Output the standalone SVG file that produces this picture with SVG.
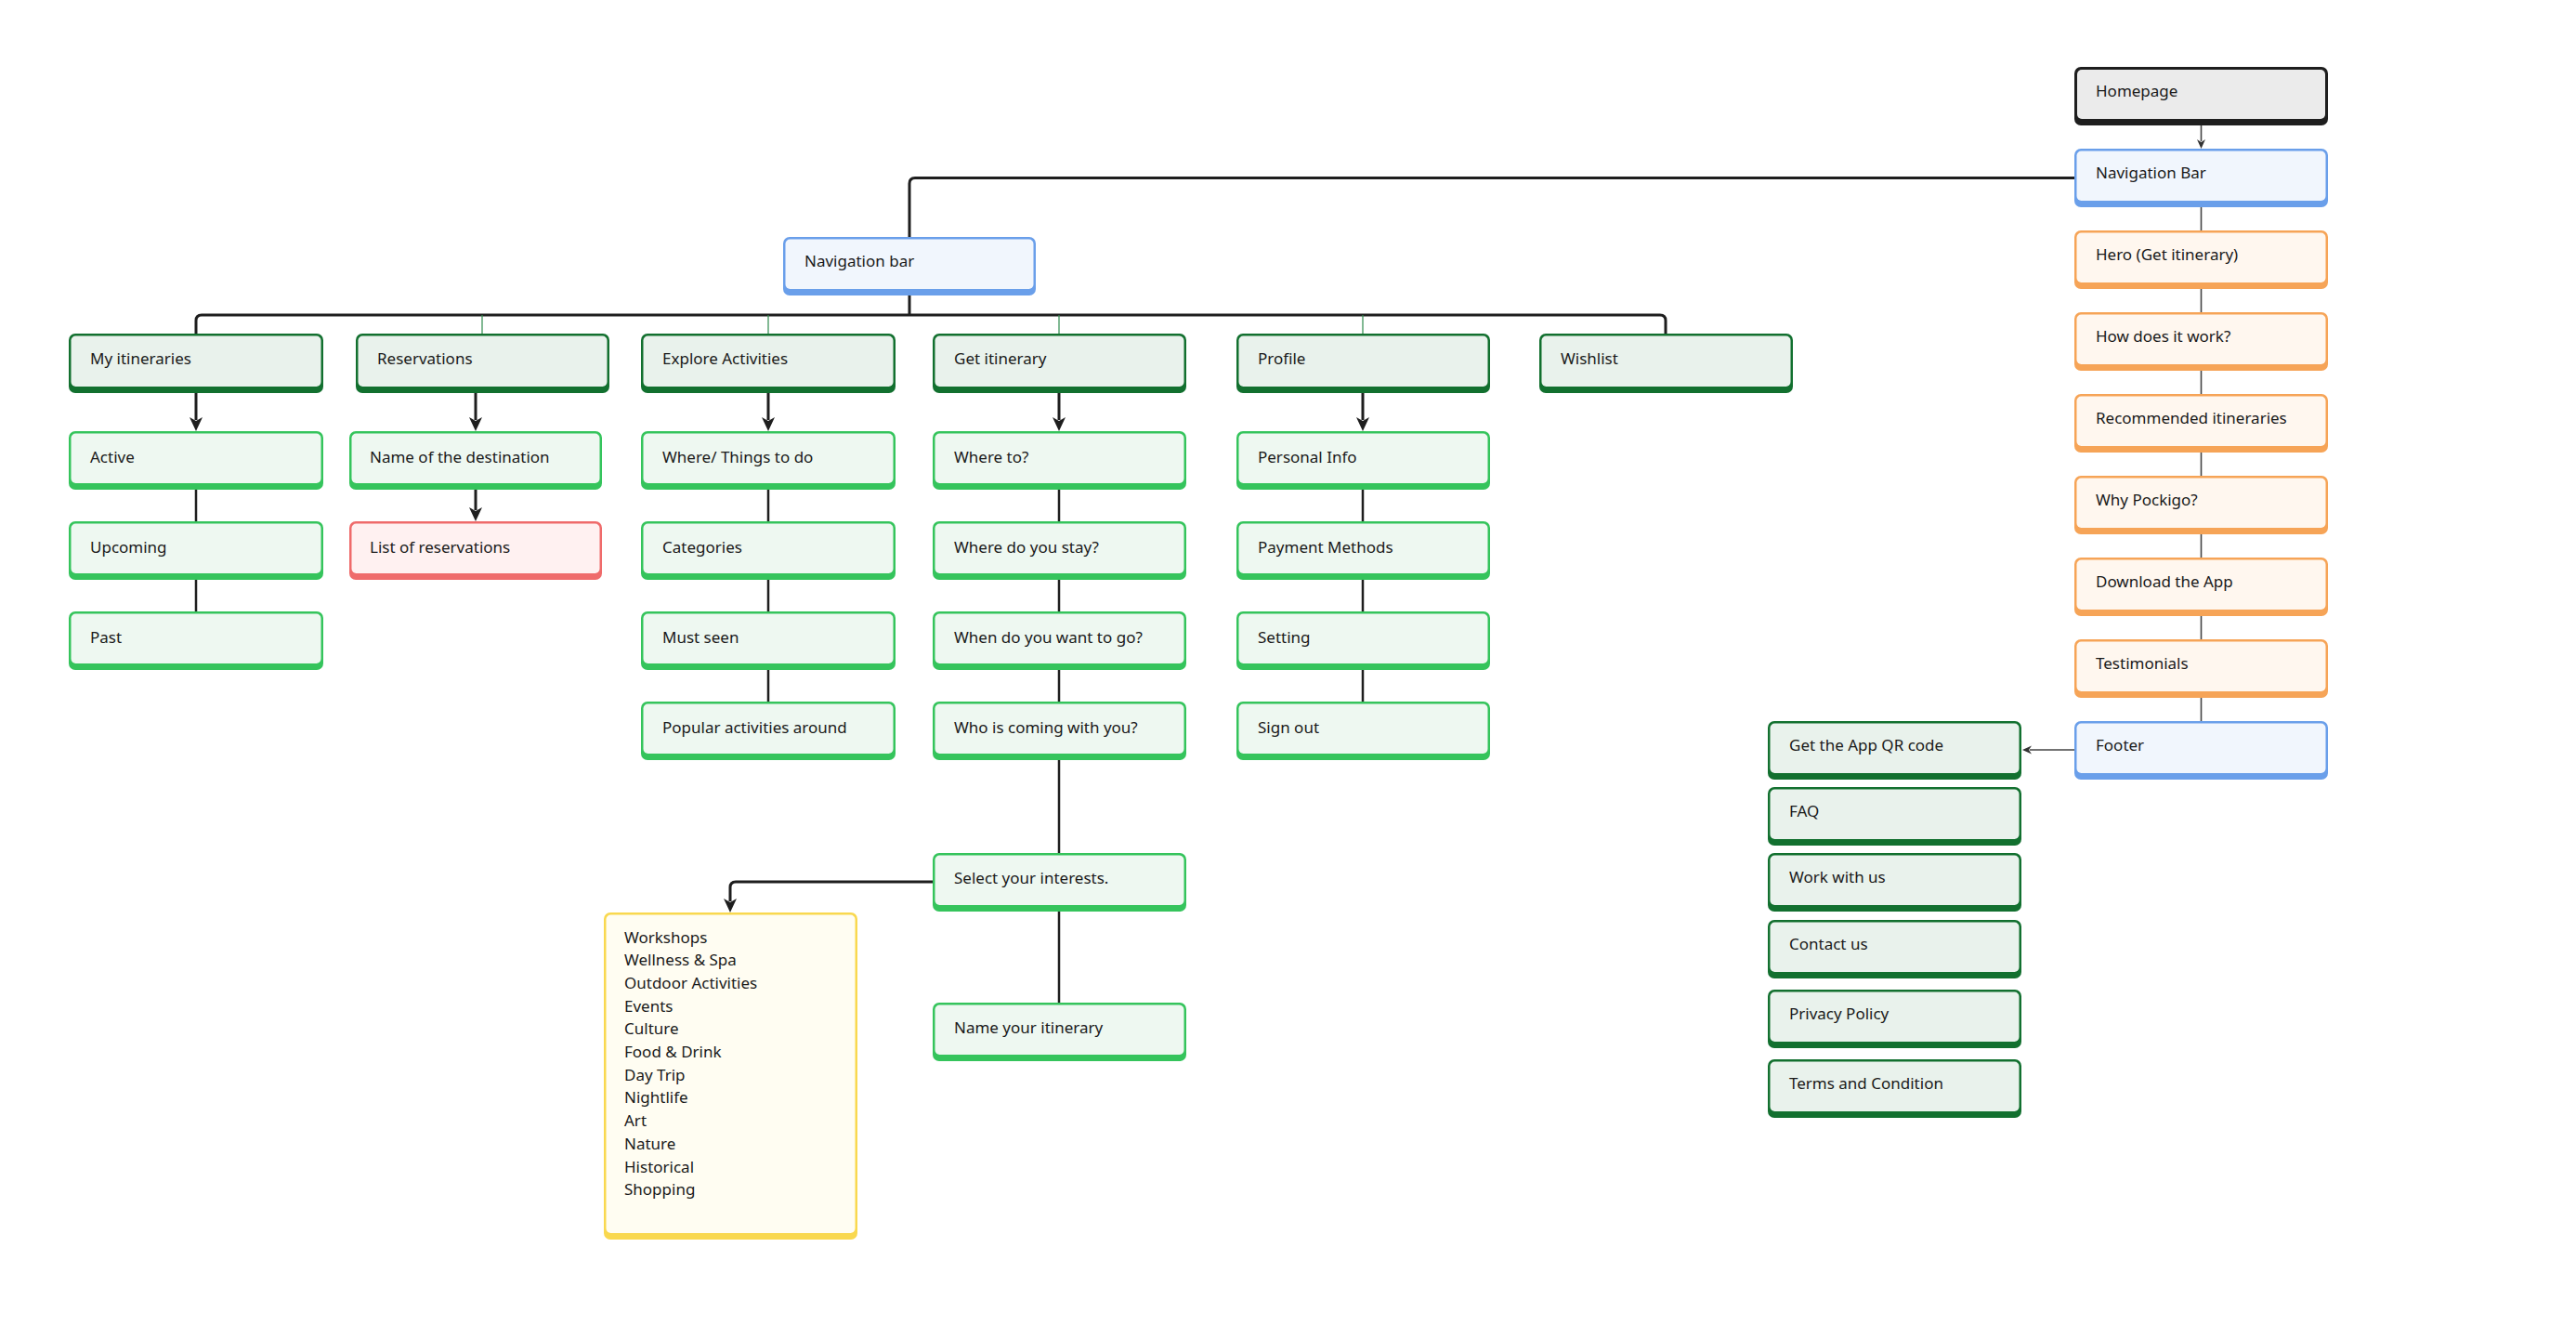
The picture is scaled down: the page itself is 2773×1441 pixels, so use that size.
<svg xmlns="http://www.w3.org/2000/svg" width="2773" height="1441" viewBox="0 0 2773 1441">
<style>
  text { font-family: "Noto Sans", "Open Sans", "Liberation Sans", sans-serif; font-size: 17px; fill: #1a1a1a; }
  .gray .o { fill: #1e1e1e; } .gray .i { fill: #ebebeb; }
  .blue .o { fill: #6a9fea; } .blue .i { fill: #f1f6fd; }
  .orange .o { fill: #f6a457; } .orange .i { fill: #fff7ef; }
  .dgreen .o { fill: #12702f; } .dgreen .i { fill: #e9f2ec; }
  .lgreen .o { fill: #35c45c; } .lgreen .i { fill: #eef8f1; }
  .red .o { fill: #ef6b6b; } .red .i { fill: #fff1f1; }
  .yellow .o { fill: #f9d84f; } .yellow .i { fill: #fffdf2; }
  .c { fill: none; stroke: #1e1e1e; stroke-width: 3; }
  .c2 { fill: none; stroke: #1e1e1e; stroke-width: 2.5; }
  .ct { fill: none; stroke: #444; stroke-width: 1.6; }
  .cg { fill: none; stroke: #2e8a4c; stroke-width: 1.2; }
</style>
<defs>
  <marker id="ah" markerUnits="userSpaceOnUse" markerWidth="16" markerHeight="16" viewBox="0 0 16 16" refX="3" refY="8" orient="auto">
    <path d="M0,1 L15,8 L0,15 L4,8 z" fill="#1e1e1e"/>
  </marker>
  <marker id="ahs" markerUnits="userSpaceOnUse" markerWidth="11" markerHeight="11" viewBox="0 0 11 11" refX="2" refY="5.5" orient="auto">
    <path d="M0,1 L10,5.5 L0,10 L3,5.5 z" fill="#333"/>
  </marker>
</defs>
<rect x="0" y="0" width="2773" height="1441" fill="#ffffff"/>

<g id="connectors">
  <path class="ct" d="M2369.5,134 V152" marker-end="url(#ahs)"/>
  <path class="ct" d="M2369.5,223 V248"/>
  <path class="ct" d="M2369.5,311 V336"/>
  <path class="ct" d="M2369.5,399 V424"/>
  <path class="ct" d="M2369.5,487 V512"/>
  <path class="ct" d="M2369.5,575 V600"/>
  <path class="ct" d="M2369.5,663 V688"/>
  <path class="ct" d="M2369.5,751 V776"/>
  <path class="ct" d="M2233,807 H2185" marker-end="url(#ahs)"/>
  <path class="c" d="M2233,191.5 H985 Q979,191.5 979,197.5 V255"/>
  <path class="c" d="M979,317 V339"/>
  <path class="c" d="M211,359 V345 Q211,339 217,339 H1787 Q1793,339 1793,345 V360"/>
  <path class="cg" d="M519,339 V359"/>
  <path class="cg" d="M827,339 V359"/>
  <path class="cg" d="M1140,339 V359"/>
  <path class="cg" d="M1467,339 V359"/>
  <path class="c" d="M211,422 V452" marker-end="url(#ah)"/>
  <path class="c" d="M512,422 V452" marker-end="url(#ah)"/>
  <path class="c" d="M827,422 V452" marker-end="url(#ah)"/>
  <path class="c" d="M1140,422 V452" marker-end="url(#ah)"/>
  <path class="c" d="M1467,422 V452" marker-end="url(#ah)"/>
  <path class="c" d="M512,527 V549" marker-end="url(#ah)"/>
  <path class="c2" d="M211,527 V561 M211,624 V658"/>
  <path class="c2" d="M827,527 V561 M827,624 V658 M827,721 V755"/>
  <path class="c2" d="M1140,527 V561 M1140,624 V658 M1140,721 V755 M1140,818 V918 M1140,981 V1079"/>
  <path class="c2" d="M1467,527 V561 M1467,624 V658 M1467,721 V755"/>
  <path class="c" d="M1004,949 H792 Q786,949 786,955 V970" marker-end="url(#ah)"/>
</g>

<g id="n-homepage" class="gray"><rect class="o" x="2233" y="72" width="273" height="63" rx="7"/><rect class="i" x="2236" y="75" width="267" height="53" rx="5"/><text x="2256" y="104">Homepage</text></g>
<g id="n-navbar-top" class="blue"><rect class="o" x="2233" y="160" width="273" height="63" rx="7"/><rect class="i" x="2235.5" y="162.5" width="268" height="53.5" rx="5"/><text x="2256" y="192">Navigation Bar</text></g>
<g id="n-hero" class="orange"><rect class="o" x="2233" y="248" width="273" height="63" rx="7"/><rect class="i" x="2235.5" y="250.5" width="268" height="53.5" rx="5"/><text x="2256" y="280">Hero (Get itinerary)</text></g>
<g id="n-how" class="orange"><rect class="o" x="2233" y="336" width="273" height="63" rx="7"/><rect class="i" x="2235.5" y="338.5" width="268" height="53.5" rx="5"/><text x="2256" y="368">How does it work?</text></g>
<g id="n-recommended" class="orange"><rect class="o" x="2233" y="424" width="273" height="63" rx="7"/><rect class="i" x="2235.5" y="426.5" width="268" height="53.5" rx="5"/><text x="2256" y="456">Recommended itineraries</text></g>
<g id="n-why" class="orange"><rect class="o" x="2233" y="512" width="273" height="63" rx="7"/><rect class="i" x="2235.5" y="514.5" width="268" height="53.5" rx="5"/><text x="2256" y="544">Why Pockigo?</text></g>
<g id="n-download" class="orange"><rect class="o" x="2233" y="600" width="273" height="63" rx="7"/><rect class="i" x="2235.5" y="602.5" width="268" height="53.5" rx="5"/><text x="2256" y="632">Download the App</text></g>
<g id="n-testimonials" class="orange"><rect class="o" x="2233" y="688" width="273" height="63" rx="7"/><rect class="i" x="2235.5" y="690.5" width="268" height="53.5" rx="5"/><text x="2256" y="720">Testimonials</text></g>
<g id="n-footer" class="blue"><rect class="o" x="2233" y="776" width="273" height="63" rx="7"/><rect class="i" x="2235.5" y="778.5" width="268" height="53.5" rx="5"/><text x="2256" y="808">Footer</text></g>

<g id="n-qr" class="dgreen"><rect class="o" x="1903" y="776" width="273" height="63" rx="7"/><rect class="i" x="1905.5" y="778.5" width="268" height="53.5" rx="5"/><text x="1926" y="808">Get the App QR code</text></g>
<g id="n-faq" class="dgreen"><rect class="o" x="1903" y="847" width="273" height="63" rx="7"/><rect class="i" x="1905.5" y="849.5" width="268" height="53.5" rx="5"/><text x="1926" y="879">FAQ</text></g>
<g id="n-work" class="dgreen"><rect class="o" x="1903" y="918" width="273" height="63" rx="7"/><rect class="i" x="1905.5" y="920.5" width="268" height="53.5" rx="5"/><text x="1926" y="950">Work with us</text></g>
<g id="n-contact" class="dgreen"><rect class="o" x="1903" y="990" width="273" height="63" rx="7"/><rect class="i" x="1905.5" y="992.5" width="268" height="53.5" rx="5"/><text x="1926" y="1022">Contact us</text></g>
<g id="n-privacy" class="dgreen"><rect class="o" x="1903" y="1065" width="273" height="63" rx="7"/><rect class="i" x="1905.5" y="1067.5" width="268" height="53.5" rx="5"/><text x="1926" y="1097">Privacy Policy</text></g>
<g id="n-terms" class="dgreen"><rect class="o" x="1903" y="1140" width="273" height="63" rx="7"/><rect class="i" x="1905.5" y="1142.5" width="268" height="53.5" rx="5"/><text x="1926" y="1172">Terms and Condition</text></g>

<g id="n-navbar" class="blue"><rect class="o" x="843" y="255" width="272" height="63" rx="7"/><rect class="i" x="845.5" y="257.5" width="267" height="53.5" rx="5"/><text x="866" y="287">Navigation bar</text></g>

<g id="n-myitin" class="dgreen"><rect class="o" x="74" y="359" width="274" height="64" rx="7"/><rect class="i" x="76.5" y="361.5" width="269" height="54.5" rx="5"/><text x="97" y="392">My itineraries</text></g>
<g id="n-reservations" class="dgreen"><rect class="o" x="383" y="359" width="273" height="64" rx="7"/><rect class="i" x="385.5" y="361.5" width="268" height="54.5" rx="5"/><text x="406" y="392">Reservations</text></g>
<g id="n-explore" class="dgreen"><rect class="o" x="690" y="359" width="274" height="64" rx="7"/><rect class="i" x="692.5" y="361.5" width="269" height="54.5" rx="5"/><text x="713" y="392">Explore Activities</text></g>
<g id="n-getitin" class="dgreen"><rect class="o" x="1004" y="359" width="273" height="64" rx="7"/><rect class="i" x="1006.5" y="361.5" width="268" height="54.5" rx="5"/><text x="1027" y="392">Get itinerary</text></g>
<g id="n-profile" class="dgreen"><rect class="o" x="1331" y="359" width="273" height="64" rx="7"/><rect class="i" x="1333.5" y="361.5" width="268" height="54.5" rx="5"/><text x="1354" y="392">Profile</text></g>
<g id="n-wishlist" class="dgreen"><rect class="o" x="1657" y="359" width="273" height="64" rx="7"/><rect class="i" x="1659.5" y="361.5" width="268" height="54.5" rx="5"/><text x="1680" y="392">Wishlist</text></g>

<g id="n-active" class="lgreen"><rect class="o" x="74" y="464" width="274" height="63" rx="7"/><rect class="i" x="76.5" y="466.5" width="269" height="53.5" rx="5"/><text x="97" y="497.5">Active</text></g>
<g id="n-upcoming" class="lgreen"><rect class="o" x="74" y="561" width="274" height="63" rx="7"/><rect class="i" x="76.5" y="563.5" width="269" height="53.5" rx="5"/><text x="97" y="594.5">Upcoming</text></g>
<g id="n-past" class="lgreen"><rect class="o" x="74" y="658" width="274" height="63" rx="7"/><rect class="i" x="76.5" y="660.5" width="269" height="53.5" rx="5"/><text x="97" y="691.5">Past</text></g>

<g id="n-dest" class="lgreen"><rect class="o" x="376" y="464" width="272" height="63" rx="7"/><rect class="i" x="378.5" y="466.5" width="267" height="53.5" rx="5"/><text x="398" y="497.5">Name of the destination</text></g>
<g id="n-list" class="red"><rect class="o" x="376" y="561" width="272" height="63" rx="7"/><rect class="i" x="378.5" y="563.5" width="267" height="53.5" rx="5"/><text x="398" y="594.5">List of reservations</text></g>

<g id="n-where" class="lgreen"><rect class="o" x="690" y="464" width="274" height="63" rx="7"/><rect class="i" x="692.5" y="466.5" width="269" height="53.5" rx="5"/><text x="713" y="497.5">Where/ Things to do</text></g>
<g id="n-categories" class="lgreen"><rect class="o" x="690" y="561" width="274" height="63" rx="7"/><rect class="i" x="692.5" y="563.5" width="269" height="53.5" rx="5"/><text x="713" y="594.5">Categories</text></g>
<g id="n-mustseen" class="lgreen"><rect class="o" x="690" y="658" width="274" height="63" rx="7"/><rect class="i" x="692.5" y="660.5" width="269" height="53.5" rx="5"/><text x="713" y="691.5">Must seen</text></g>
<g id="n-popular" class="lgreen"><rect class="o" x="690" y="755" width="274" height="63" rx="7"/><rect class="i" x="692.5" y="757.5" width="269" height="53.5" rx="5"/><text x="713" y="788.5">Popular activities around</text></g>

<g id="n-whereto" class="lgreen"><rect class="o" x="1004" y="464" width="273" height="63" rx="7"/><rect class="i" x="1006.5" y="466.5" width="268" height="53.5" rx="5"/><text x="1027" y="497.5">Where to?</text></g>
<g id="n-stay" class="lgreen"><rect class="o" x="1004" y="561" width="273" height="63" rx="7"/><rect class="i" x="1006.5" y="563.5" width="268" height="53.5" rx="5"/><text x="1027" y="594.5">Where do you stay?</text></g>
<g id="n-when" class="lgreen"><rect class="o" x="1004" y="658" width="273" height="63" rx="7"/><rect class="i" x="1006.5" y="660.5" width="268" height="53.5" rx="5"/><text x="1027" y="691.5">When do you want to go?</text></g>
<g id="n-who" class="lgreen"><rect class="o" x="1004" y="755" width="273" height="63" rx="7"/><rect class="i" x="1006.5" y="757.5" width="268" height="53.5" rx="5"/><text x="1027" y="788.5">Who is coming with you?</text></g>
<g id="n-select" class="lgreen"><rect class="o" x="1004" y="918" width="273" height="63" rx="7"/><rect class="i" x="1006.5" y="920.5" width="268" height="53.5" rx="5"/><text x="1027" y="951">Select your interests.</text></g>
<g id="n-name" class="lgreen"><rect class="o" x="1004" y="1079" width="273" height="63" rx="7"/><rect class="i" x="1006.5" y="1081.5" width="268" height="53.5" rx="5"/><text x="1027" y="1112">Name your itinerary</text></g>

<g id="n-personal" class="lgreen"><rect class="o" x="1331" y="464" width="273" height="63" rx="7"/><rect class="i" x="1333.5" y="466.5" width="268" height="53.5" rx="5"/><text x="1354" y="497.5">Personal Info</text></g>
<g id="n-payment" class="lgreen"><rect class="o" x="1331" y="561" width="273" height="63" rx="7"/><rect class="i" x="1333.5" y="563.5" width="268" height="53.5" rx="5"/><text x="1354" y="594.5">Payment Methods</text></g>
<g id="n-setting" class="lgreen"><rect class="o" x="1331" y="658" width="273" height="63" rx="7"/><rect class="i" x="1333.5" y="660.5" width="268" height="53.5" rx="5"/><text x="1354" y="691.5">Setting</text></g>
<g id="n-signout" class="lgreen"><rect class="o" x="1331" y="755" width="273" height="63" rx="7"/><rect class="i" x="1333.5" y="757.5" width="268" height="53.5" rx="5"/><text x="1354" y="788.5">Sign out</text></g>

<g id="n-interests" class="yellow"><rect class="o" x="650" y="982" width="273" height="352" rx="7"/><rect class="i" x="652.5" y="984.5" width="268" height="342.5" rx="5"/>
  <text x="672" y="1014.5">Workshops</text>
  <text x="672" y="1039.2">Wellness &amp; Spa</text>
  <text x="672" y="1063.9">Outdoor Activities</text>
  <text x="672" y="1088.6">Events</text>
  <text x="672" y="1113.3">Culture</text>
  <text x="672" y="1138">Food &amp; Drink</text>
  <text x="672" y="1162.7">Day Trip</text>
  <text x="672" y="1187.4">Nightlife</text>
  <text x="672" y="1212.1">Art</text>
  <text x="672" y="1236.8">Nature</text>
  <text x="672" y="1261.5">Historical</text>
  <text x="672" y="1286.2">Shopping</text>
</g>
</svg>
